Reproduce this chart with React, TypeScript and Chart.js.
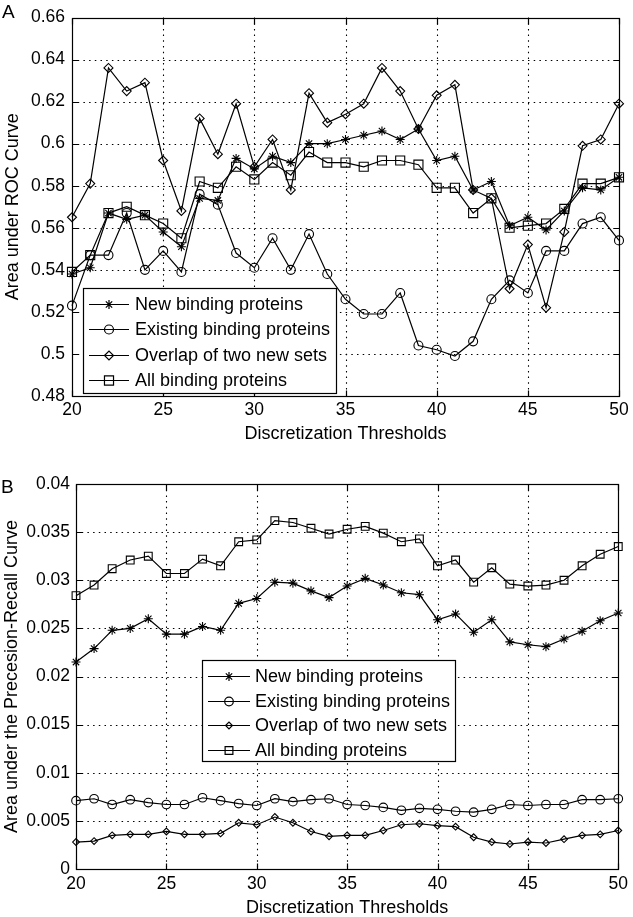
import React, { useEffect, useRef } from 'react';
import { Chart, registerables } from 'chart.js';

Chart.register(...registerables);

const FONT = '"Liberation Sans", Arial, sans-serif';

const thresholds = [20, 21, 22, 23, 24, 25, 26, 27, 28, 29, 30, 31, 32, 33, 34, 35, 36, 37, 38, 39, 40, 41, 42, 43, 44, 45, 46, 47, 48, 49, 50];

const seriesLabels = ['New binding proteins', 'Existing binding proteins', 'Overlap of two new sets', 'All binding proteins'];

// Panel A: Area under ROC curve
const rocNew = [0.538, 0.541, 0.567, 0.564, 0.566, 0.558, 0.551, 0.574, 0.573, 0.593, 0.588, 0.594, 0.591, 0.600, 0.600, 0.602, 0.604, 0.606, 0.602, 0.607, 0.592, 0.594, 0.578, 0.582, 0.561, 0.565, 0.559, 0.568, 0.579, 0.578, 0.584];
const rocExisting = [0.523, 0.547, 0.547, 0.567, 0.540, 0.549, 0.539, 0.576, 0.571, 0.548, 0.541, 0.555, 0.540, 0.557, 0.538, 0.526, 0.519, 0.519, 0.529, 0.504, 0.502, 0.499, 0.506, 0.526, 0.535, 0.529, 0.549, 0.549, 0.562, 0.565, 0.554];
const rocOverlap = [0.565, 0.581, 0.636, 0.625, 0.629, 0.592, 0.568, 0.612, 0.595, 0.619, 0.589, 0.602, 0.578, 0.624, 0.610, 0.614, 0.619, 0.636, 0.625, 0.607, 0.623, 0.628, 0.578, 0.574, 0.531, 0.552, 0.522, 0.558, 0.599, 0.602, 0.619];
const rocAll = [0.539, 0.547, 0.567, 0.570, 0.566, 0.562, 0.555, 0.582, 0.579, 0.589, 0.583, 0.591, 0.585, 0.596, 0.591, 0.591, 0.589, 0.592, 0.592, 0.590, 0.579, 0.579, 0.567, 0.574, 0.560, 0.561, 0.562, 0.569, 0.581, 0.581, 0.584];

// Panel B: Area under the Precision-Recall curve
const prNew = [0.0215, 0.0229, 0.0248, 0.0250, 0.0260, 0.0244, 0.0244, 0.0252, 0.0248, 0.0276, 0.0281, 0.0298, 0.0297, 0.0289, 0.0282, 0.0294, 0.0302, 0.0295, 0.0287, 0.0285, 0.0259, 0.0265, 0.0246, 0.0259, 0.0236, 0.0233, 0.0231, 0.0239, 0.0247, 0.0258, 0.0266];
const prExisting = [0.0071, 0.0073, 0.0067, 0.0072, 0.0069, 0.0067, 0.0067, 0.0074, 0.0071, 0.0068, 0.0066, 0.0073, 0.0070, 0.0072, 0.0073, 0.0067, 0.0066, 0.0064, 0.0061, 0.0063, 0.0062, 0.0060, 0.0059, 0.0062, 0.0067, 0.0066, 0.0067, 0.0067, 0.0072, 0.0072, 0.0073];
const prOverlap = [0.0028, 0.0029, 0.0035, 0.0036, 0.0036, 0.0039, 0.0036, 0.0036, 0.0037, 0.0048, 0.0046, 0.0054, 0.0048, 0.0039, 0.0034, 0.0035, 0.0035, 0.0040, 0.0046, 0.0047, 0.0045, 0.0044, 0.0033, 0.0028, 0.0026, 0.0028, 0.0027, 0.0031, 0.0035, 0.0036, 0.0040];
const prAll = [0.0284, 0.0295, 0.0312, 0.0321, 0.0325, 0.0307, 0.0307, 0.0322, 0.0315, 0.0340, 0.0342, 0.0362, 0.0360, 0.0354, 0.0348, 0.0353, 0.0356, 0.0349, 0.0340, 0.0343, 0.0315, 0.0321, 0.0298, 0.0313, 0.0296, 0.0294, 0.0295, 0.0300, 0.0315, 0.0327, 0.0335];

const pointStyles = ['star', 'circle', 'rectRot', 'rect'];

function drawMarker(ctx: CanvasRenderingContext2D, style: string, x: number, y: number, r: number) {
  ctx.beginPath();
  if (style === 'circle') {
    ctx.arc(x, y, r, 0, Math.PI * 2);
  } else if (style === 'rect') {
    const s = Math.SQRT1_2 * r;
    ctx.rect(x - s, y - s, 2 * s, 2 * s);
  } else if (style === 'rectRot') {
    ctx.moveTo(x - r, y);
    ctx.lineTo(x, y - r);
    ctx.lineTo(x + r, y);
    ctx.lineTo(x, y + r);
    ctx.closePath();
  } else if (style === 'star') {
    const d = Math.SQRT1_2 * r;
    ctx.moveTo(x - r, y); ctx.lineTo(x + r, y);
    ctx.moveTo(x, y - r); ctx.lineTo(x, y + r);
    ctx.moveTo(x - d, y - d); ctx.lineTo(x + d, y + d);
    ctx.moveTo(x + d, y - d); ctx.lineTo(x - d, y + d);
  }
  ctx.stroke();
}

const framePlugin = {
  id: 'frame',
  beforeDatasetsDraw(chart: any) {
    const { ctx, chartArea } = chart;
    const { left, right, top, bottom } = chartArea;
    const xs = chart.scales.x;
    const ys = chart.scales.y;
    ctx.save();
    ctx.strokeStyle = '#000';
    ctx.lineWidth = 1.1;
    ctx.setLineDash([1.5, 4.2]);
    xs.ticks.forEach((t: any) => {
      const px = Math.round(xs.getPixelForValue(t.value)) + 0.5;
      if (px > left + 2 && px < right - 2) {
        ctx.beginPath();
        ctx.moveTo(px, top);
        ctx.lineTo(px, bottom);
        ctx.stroke();
      }
    });
    ys.ticks.forEach((t: any) => {
      const py = Math.round(ys.getPixelForValue(t.value)) + 0.5;
      if (py > top + 2 && py < bottom - 2) {
        ctx.beginPath();
        ctx.moveTo(left, py);
        ctx.lineTo(right, py);
        ctx.stroke();
      }
    });
    ctx.restore();
  },
  afterDatasetsDraw(chart: any, _args: any, opts: any) {
    const { ctx, chartArea } = chart;
    const { left, right, top, bottom } = chartArea;
    const xs = chart.scales.x;
    const ys = chart.scales.y;
    ctx.save();
    ctx.setLineDash([]);
    ctx.strokeStyle = '#000';
    ctx.lineWidth = 1.2;
    const L = Math.round(left) + 0.5, R = Math.round(right) + 0.5, T = Math.round(top) + 0.5, B = Math.round(bottom) + 0.5;
    ctx.strokeRect(L, T, R - L, B - T);
    const tl = 6;
    ctx.beginPath();
    xs.ticks.forEach((t: any) => {
      const px = Math.round(xs.getPixelForValue(t.value)) + 0.5;
      ctx.moveTo(px, B); ctx.lineTo(px, B - tl);
      ctx.moveTo(px, T); ctx.lineTo(px, T + tl);
    });
    ys.ticks.forEach((t: any) => {
      const py = Math.round(ys.getPixelForValue(t.value)) + 0.5;
      ctx.moveTo(L, py); ctx.lineTo(L + tl, py);
      ctx.moveTo(R, py); ctx.lineTo(R - tl, py);
    });
    ctx.stroke();

    // legend
    const lg = opts.legend;
    ctx.fillStyle = '#fff';
    ctx.fillRect(lg.x, lg.y, lg.w, lg.h);
    ctx.strokeStyle = '#000';
    ctx.lineWidth = 1.2;
    ctx.strokeRect(lg.x + 0.5, lg.y + 0.5, lg.w, lg.h);
    ctx.font = `18px ${FONT}`;
    ctx.textBaseline = 'middle';
    ctx.textAlign = 'left';
    chart.data.datasets.forEach((ds: any, i: number) => {
      const cy = lg.firstRow + i * lg.rowGap;
      ctx.strokeStyle = '#000';
      ctx.lineWidth = 1.2;
      ctx.beginPath();
      ctx.moveTo(lg.x + 6, Math.round(cy) + 0.5);
      ctx.lineTo(lg.x + 6 + lg.lineLen, Math.round(cy) + 0.5);
      ctx.stroke();
      drawMarker(ctx, ds.pointStyle, lg.x + 6 + lg.lineLen / 2, Math.round(cy) + 0.5, ds.pointRadius);
      ctx.fillStyle = '#000';
      ctx.fillText(ds.label, lg.x + lg.textOffset, cy + 1);
    });

    // panel letter
    ctx.font = `19px ${FONT}`;
    ctx.fillStyle = '#000';
    ctx.textBaseline = 'middle';
    ctx.fillText(opts.letter.text, opts.letter.x, opts.letter.y);
    ctx.restore();
  },
};

function fmt(v: number) {
  return String(Number(v.toFixed(4)));
}

function makeConfig(p: any) {
  return {
    type: 'line',
    data: {
      datasets: p.series.map((vals: number[], i: number) => ({
        label: seriesLabels[i],
        data: vals.map((v, j) => ({ x: thresholds[j], y: v })),
        borderColor: '#000',
        borderWidth: 1.2,
        pointStyle: pointStyles[i],
        pointRadius: p.radii[i],
        pointHoverRadius: p.radii[i],
        pointBorderColor: '#000',
        pointBackgroundColor: 'rgba(0,0,0,0)',
        pointBorderWidth: 1.1,
        tension: 0,
        clip: false,
        fill: false,
      })),
    },
    options: {
      responsive: false,
      maintainAspectRatio: false,
      animation: false,
      events: [],
      layout: { padding: p.padding },
      plugins: {
        legend: { display: false },
        tooltip: { enabled: false },
        frame: { legend: p.legend, letter: p.letter },
      },
      scales: {
        x: {
          type: 'linear',
          min: 20,
          max: 50,
          afterFit: (s: any) => { s.height = p.xHeight; },
          grid: { display: false, drawTicks: false, tickLength: 0 },
          border: { display: false },
          ticks: {
            stepSize: 5,
            autoSkip: false,
            maxRotation: 0,
            padding: p.xTickPad,
            color: '#000',
            font: { family: FONT, size: 17.5, lineHeight: 1.2 },
            callback: (v: number) => fmt(v),
          },
          title: {
            display: true,
            text: 'Discretization Thresholds',
            color: '#000',
            font: { family: FONT, size: 18, lineHeight: 1 },
            padding: { top: 0, bottom: p.xTitlePad },
          },
        },
        y: {
          type: 'linear',
          min: p.yMin,
          max: p.yMax,
          afterFit: (s: any) => { s.width = p.yWidth; },
          grid: { display: false, drawTicks: false, tickLength: 0 },
          border: { display: false },
          ticks: {
            stepSize: p.yStep,
            autoSkip: false,
            padding: p.yTickPad,
            color: '#000',
            font: { family: FONT, size: 17.5, lineHeight: 1.2 },
            callback: (v: number) => fmt(v),
          },
          title: {
            display: true,
            text: p.yTitle,
            color: '#000',
            font: { family: FONT, size: 18, lineHeight: 1 },
            padding: { top: p.yTitlePad, bottom: 0 },
          },
        },
      },
    },
    plugins: [framePlugin],
  };
}

const panelA = {
  series: [rocNew, rocExisting, rocOverlap, rocAll],
  radii: [4.5, 4.5, 4.5, 6.4],
  padding: { left: 0, top: 11, right: 14, bottom: 0 },
  xHeight: 59,
  yWidth: 72,
  xTickPad: 4,
  yTickPad: 7,
  xTitlePad: 12,
  yTitlePad: 4,
  yMin: 0.48,
  yMax: 0.66,
  yStep: 0.02,
  yTitle: 'Area under ROC Curve',
  legend: { x: 83, y: 288, w: 253, h: 105, firstRow: 304, rowGap: 25.3, lineLen: 40, textOffset: 52 },
  letter: { text: 'A', x: 2, y: 13 },
};

const panelB = {
  series: [prNew, prExisting, prOverlap, prAll],
  radii: [4.5, 4.3, 3.4, 5.5],
  padding: { left: 0, top: 29, right: 10, bottom: 0 },
  xHeight: 48,
  yWidth: 76,
  xTickPad: 5,
  yTickPad: 6,
  xTitlePad: 0,
  yTitlePad: 3,
  yMin: 0,
  yMax: 0.04,
  yStep: 0.005,
  yTitle: 'Area under the Precesion-Recall Curve',
  legend: { x: 202, y: 205, w: 253, h: 101, firstRow: 221, rowGap: 24.7, lineLen: 42, textOffset: 53 },
  letter: { text: 'B', x: 1, y: 33 },
};

function Panel({ cfg, top, height }: { cfg: any; top: number; height: number }) {
  const ref = useRef<HTMLCanvasElement | null>(null);
  useEffect(() => {
    if (!ref.current) return;
    const chart = new Chart(ref.current, makeConfig(cfg) as any);
    return () => chart.destroy();
  }, [cfg]);
  return (
    <canvas
      ref={ref}
      width={633}
      height={height}
      style={{ position: 'absolute', left: 0, top, width: 633, height, display: 'block' }}
    />
  );
}

export default function App() {
  return (
    <div style={{ position: 'absolute', left: 0, top: 0, width: 633, height: 917, background: '#fff', overflow: 'hidden' }}>
      <Panel cfg={panelA} top={0} height={455} />
      <Panel cfg={panelB} top={455} height={462} />
    </div>
  );
}
